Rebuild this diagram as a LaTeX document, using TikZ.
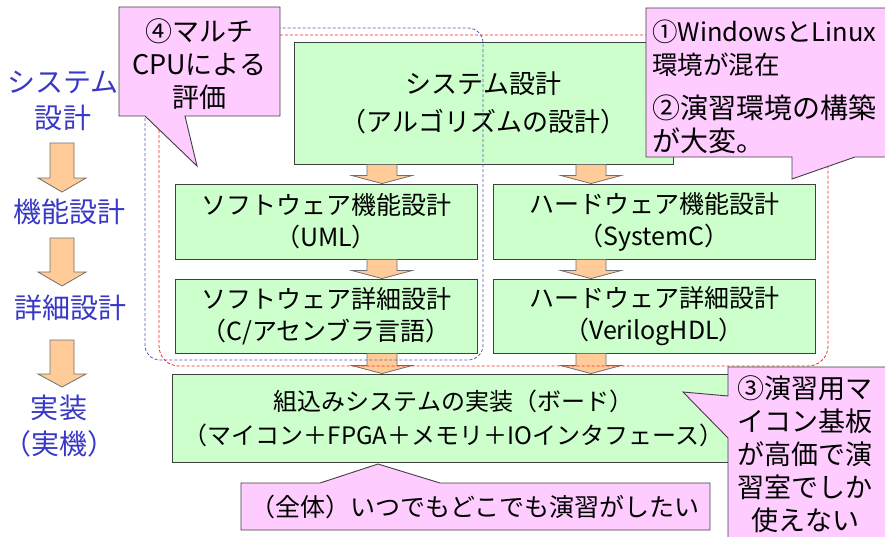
\documentclass[tikz,border=0pt]{standalone}
\usepackage{fontspec}
\newfontfamily\jp{Noto Sans CJK JP}
\usetikzlibrary{calc}
\definecolor{boxgreen}{HTML}{CCFFCC}
\definecolor{callpink}{HTML}{FFCCFF}
\definecolor{arrorange}{HTML}{FFCC99}
\definecolor{lblue}{HTML}{3838C8}
\definecolor{dblue}{HTML}{5858C0}
\definecolor{dred}{HTML}{FF2020}
\definecolor{edge}{HTML}{404040}
\definecolor{arredge}{HTML}{707070}
\tikzset{
  gbox/.style={draw=edge, line width=0.9pt, fill=boxgreen, inner sep=0pt, align=center,
    font=\jp\fontsize{25}{32}\selectfont},
  arrowbox/.style={draw=arredge, line width=0.8pt, fill=arrorange},
  callshape/.style={draw=edge, line width=0.9pt, fill=callpink},
  calltext/.style={inner sep=0pt, font=\jp\fontsize{27}{33}\selectfont},
  lefttext/.style={inner sep=0pt, align=center, text=lblue, font=\jp\fontsize{28}{36}\selectfont},
  dashbox/.style={line width=0.8pt, dash pattern=on 3pt off 2pt},
}
\newcommand\blockarr[5]{%
  \draw[arrowbox] let \p1=(#1), \p2=(#2) in
    (\x1-#3pt,\y1) -- (\x1+#3pt,\y1) -- (\x1+#3pt,\y2+#5pt) -- (\x1+#4pt,\y2+#5pt)
    -- (\x1,\y2) -- (\x1-#4pt,\y2+#5pt) -- (\x1-#3pt,\y2+#5pt) -- cycle;}
\begin{document}
\begin{tikzpicture}[x=1pt,y=-1pt]
\clip (0,0) rectangle (885,536);
\fill[white] (0,0) rectangle (885,536);

% left column
\node[lefttext] (l1) at (63,101) {システム\\設計};
\node[lefttext] (l2) at (69,212) {機能設計};
\node[lefttext] (l3) at (70,308) {詳細設計};
\node[lefttext] (l4) at (59,426) {実装\\（実機）};
\coordinate (la1) at (62,143); \coordinate (la1b) at (62,192);
\coordinate (la2) at (62,238); \coordinate (la2b) at (62,286);
\coordinate (la3) at (62,340); \coordinate (la3b) at (62,387);
\blockarr{la1}{la1b}{12}{24}{14}
\blockarr{la2}{la2b}{12}{24}{14}
\blockarr{la3}{la3b}{12}{24}{13}

% green boxes
\node[gbox, minimum width=379pt, minimum height=122pt, font=\jp\fontsize{26}{38}\selectfont] (sys) at (483.5,103) {システム設計\\（アルゴリズムの設計）};
\node[gbox, minimum width=302pt, minimum height=75pt] (sw1) at (326,221.5) {ソフトウェア機能設計\\（UML）};
\node[gbox, minimum width=302pt, minimum height=74pt] (sw2) at (326,316) {ソフトウェア詳細設計\\（C/アセンブラ言語）};
\node[gbox, minimum width=322pt, minimum height=75pt] (hw1) at (654,221.5) {ハードウェア機能設計\\（SystemC）};
\node[gbox, minimum width=322pt, minimum height=74pt] (hw2) at (654,316) {ハードウェア詳細設計\\（VerilogHDL）};
\node[gbox, minimum width=563pt, minimum height=88pt, font=\jp\fontsize{24}{34}\selectfont] (impl) at (453.5,418)
  {組込みシステムの実装（ボード）\\（マイコン＋FPGA＋メモリ＋IOインタフェース）};

% block arrows between boxes
\coordinate (swx) at (382,0);
\coordinate (hwx) at (591,0);
\blockarr{sys.south -| swx}{sw1.north -| swx}{15}{30}{8}
\blockarr{sys.south -| hwx}{hw1.north -| hwx}{15}{30}{8}
\blockarr{sw1.south -| swx}{sw2.north -| swx}{15}{30}{8}
\blockarr{hw1.south -| hwx}{hw2.north -| hwx}{15}{30}{8}
\blockarr{sw2.south -| swx}{impl.north -| swx}{15}{30}{8}
\blockarr{hw2.south -| hwx}{impl.north -| hwx}{15}{30}{8}

% dashed groups
\draw[dashbox, draw=dblue, rounded corners=15pt] (145,28) rectangle (483,360);
\draw[dashbox, draw=dred, rounded corners=20pt] (159,35) rectangle (828,366);

% callouts
\draw[callshape] (119,7) -- (280,7) -- (280,116) -- (185,116) -- (197,166) -- (145,116) -- (119,116) -- cycle;
\node[calltext, align=center] (c4) at (199,64) {④マルチ\\CPUによる\\評価};

\draw[callshape] (646,8) -- (895,8) -- (895,157) -- (855,157) -- (792,179) -- (792,157) -- (646,157) -- cycle;
\node[calltext, align=left, anchor=west, font=\jp\fontsize{25.5}{33}\selectfont] (c1) at (652,48) {①WindowsとLinux\\環境が混在};
\node[calltext, align=left, anchor=west, font=\jp\fontsize{28}{33}\selectfont] (c2) at (652,124) {②演習環境の構築\\が大変。};

\draw[callshape] (728,367) -- (895,367) -- (895,545) -- (728,545) -- (728,438) -- (683,392) -- (728,396) -- cycle;
\node[calltext, align=center] (c3) at (805,454) {③演習用マ\\イコン基板\\が高価で演\\習室でしか\\使えない};

\draw[callshape] (241,483) -- (320,483) -- (378,464) -- (440,483) -- (710,483) -- (710,530) -- (241,530) -- cycle;
\node[calltext, font=\jp\fontsize{25}{32}\selectfont] (cb) at (475,507) {（全体）いつでもどこでも演習がしたい};
\end{tikzpicture}
\end{document}
